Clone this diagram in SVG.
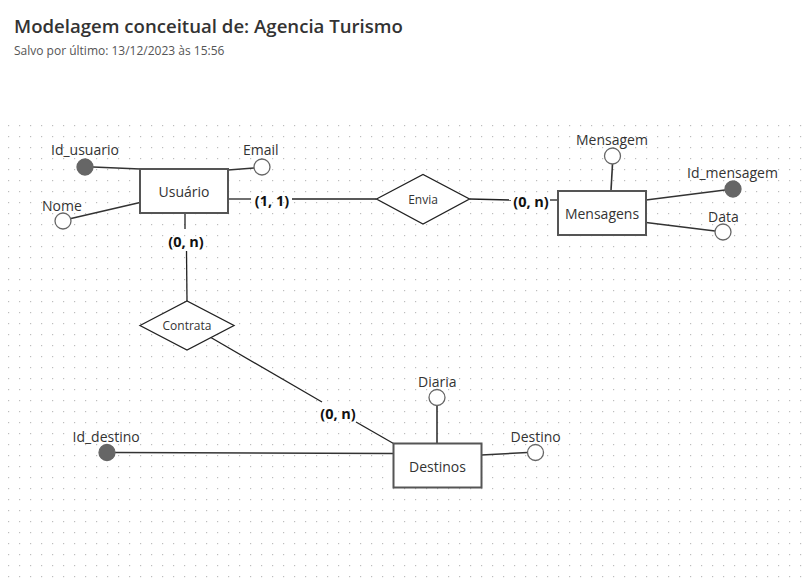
<svg xmlns="http://www.w3.org/2000/svg" width="803" height="579" viewBox="0 0 803 579">
<defs>
<pattern id="grid" x="8" y="125" width="11" height="11" patternUnits="userSpaceOnUse">
<rect x="0" y="0" width="1.2" height="1.2" fill="#bdbdbd"/>
</pattern>
</defs>
<style>
text{font-family:"Open Sans","Noto Sans","Liberation Sans",sans-serif;}
.title{font-size:18.6px;font-weight:600;fill:#333;}
.sub{font-size:12px;fill:#555;}
.ent{fill:#fff;stroke:#555;stroke-width:2;}
.rel{fill:#fff;stroke:#222;stroke-width:1.3;}
.attr{fill:#fff;stroke:#666;stroke-width:1.3;}
.key{fill:#666;stroke:#666;stroke-width:1.3;}
.lbl{font-size:14px;fill:#333;}
.etxt{font-size:14px;fill:#333;text-anchor:middle;dominant-baseline:central;}
.rtxt{font-size:12px;fill:#333;text-anchor:middle;dominant-baseline:central;}
.card{font-size:14.5px;font-weight:bold;fill:#111;text-anchor:middle;dominant-baseline:central;}
.ln{stroke:#222;stroke-width:1.3;fill:none;}
.aln{stroke:#333;stroke-width:1.6;fill:none;}
</style>
<rect width="803" height="579" fill="#fff"/>
<rect x="7" y="120" width="796" height="459" fill="url(#grid)"/>
<text class="title" x="14" y="33">Modelagem conceitual de: Agencia Turismo</text>
<text class="sub" x="14" y="55">Salvo por último: 13/12/2023 às 15:56</text>

<g id="connectors">
<line class="aln" x1="93" y1="167" x2="140" y2="169"/>
<line class="aln" x1="228" y1="170" x2="254" y2="168"/>
<line class="aln" x1="71" y1="218.5" x2="140" y2="202.5"/>
<line class="ln" x1="228" y1="199" x2="251" y2="199"/>
<line class="ln" x1="292" y1="199" x2="376.5" y2="199"/>
<line class="ln" x1="469.5" y1="199" x2="511" y2="200"/>
<line class="ln" x1="550" y1="200" x2="558" y2="200"/>
<line class="aln" x1="612.5" y1="164" x2="611" y2="190.5"/>
<line class="aln" x1="646" y1="200" x2="725" y2="190"/>
<line class="aln" x1="646" y1="222.5" x2="715" y2="231"/>
<line class="ln" x1="185" y1="213" x2="185" y2="229"/>
<line class="ln" x1="186.5" y1="251" x2="187" y2="301"/>
<line class="ln" x1="210" y1="337" x2="322" y2="402"/>
<line class="ln" x1="356" y1="422" x2="393.5" y2="443.5"/>
<line class="aln" x1="437" y1="405.5" x2="437" y2="443.5"/>
<line class="aln" x1="481.5" y1="455" x2="527.5" y2="452.5"/>
<line class="aln" x1="115" y1="452.5" x2="393.5" y2="453.5"/>
<text class="card" x="272" y="200">(1, 1)</text>
<text class="card" x="531" y="201">(0, n)</text>
<text class="card" x="186" y="241">(0, n)</text>
<text class="card" x="338" y="413">(0, n)</text>
</g>

<g id="usuario">
<rect class="ent" x="140" y="169" width="88" height="44"/>
<text class="etxt" x="184" y="191">Usuário</text>
</g>
<g id="id_usuario">
<circle class="key" cx="85" cy="167" r="8"/>
<text class="lbl" x="51" y="155">Id_usuario</text>
</g>
<g id="email">
<circle class="attr" cx="262" cy="167" r="8"/>
<text class="lbl" x="243" y="155">Email</text>
</g>
<g id="nome">
<circle class="attr" cx="63" cy="221" r="8"/>
<text class="lbl" x="42" y="211">Nome</text>
</g>

<g id="envia">
<polygon class="rel" points="376.5,199 423,174.5 469.5,199 423,224"/>
<text class="rtxt" x="423" y="199">Envia</text>
</g>

<g id="mensagens">
<rect class="ent" x="558" y="191" width="88" height="44"/>
<text class="etxt" x="602" y="213.5">Mensagens</text>
</g>
<g id="mensagem">
<circle class="attr" cx="612.5" cy="156" r="8"/>
<text class="lbl" x="576" y="145">Mensagem</text>
</g>
<g id="id_mensagem">
<circle class="key" cx="733" cy="189" r="8"/>
<text class="lbl" x="687" y="178">Id_mensagem</text>
</g>
<g id="data">
<circle class="attr" cx="723" cy="232" r="8"/>
<text class="lbl" x="708" y="222">Data</text>
</g>

<g id="contrata">
<polygon class="rel" points="140,325.5 187,301 234,325.5 187,350"/>
<text class="rtxt" x="187" y="325.5">Contrata</text>
</g>

<g id="destinos">
<rect class="ent" x="393.5" y="443.5" width="88" height="44"/>
<text class="etxt" x="437.5" y="466">Destinos</text>
</g>
<g id="diaria">
<circle class="attr" cx="437" cy="397.5" r="8"/>
<text class="lbl" x="418" y="387">Diaria</text>
</g>
<g id="destino">
<circle class="attr" cx="535.5" cy="452.5" r="8"/>
<text class="lbl" x="510.5" y="442">Destino</text>
</g>
<g id="id_destino">
<circle class="key" cx="107" cy="452.5" r="8"/>
<text class="lbl" x="72.5" y="442">Id_destino</text>
</g>
</svg>
